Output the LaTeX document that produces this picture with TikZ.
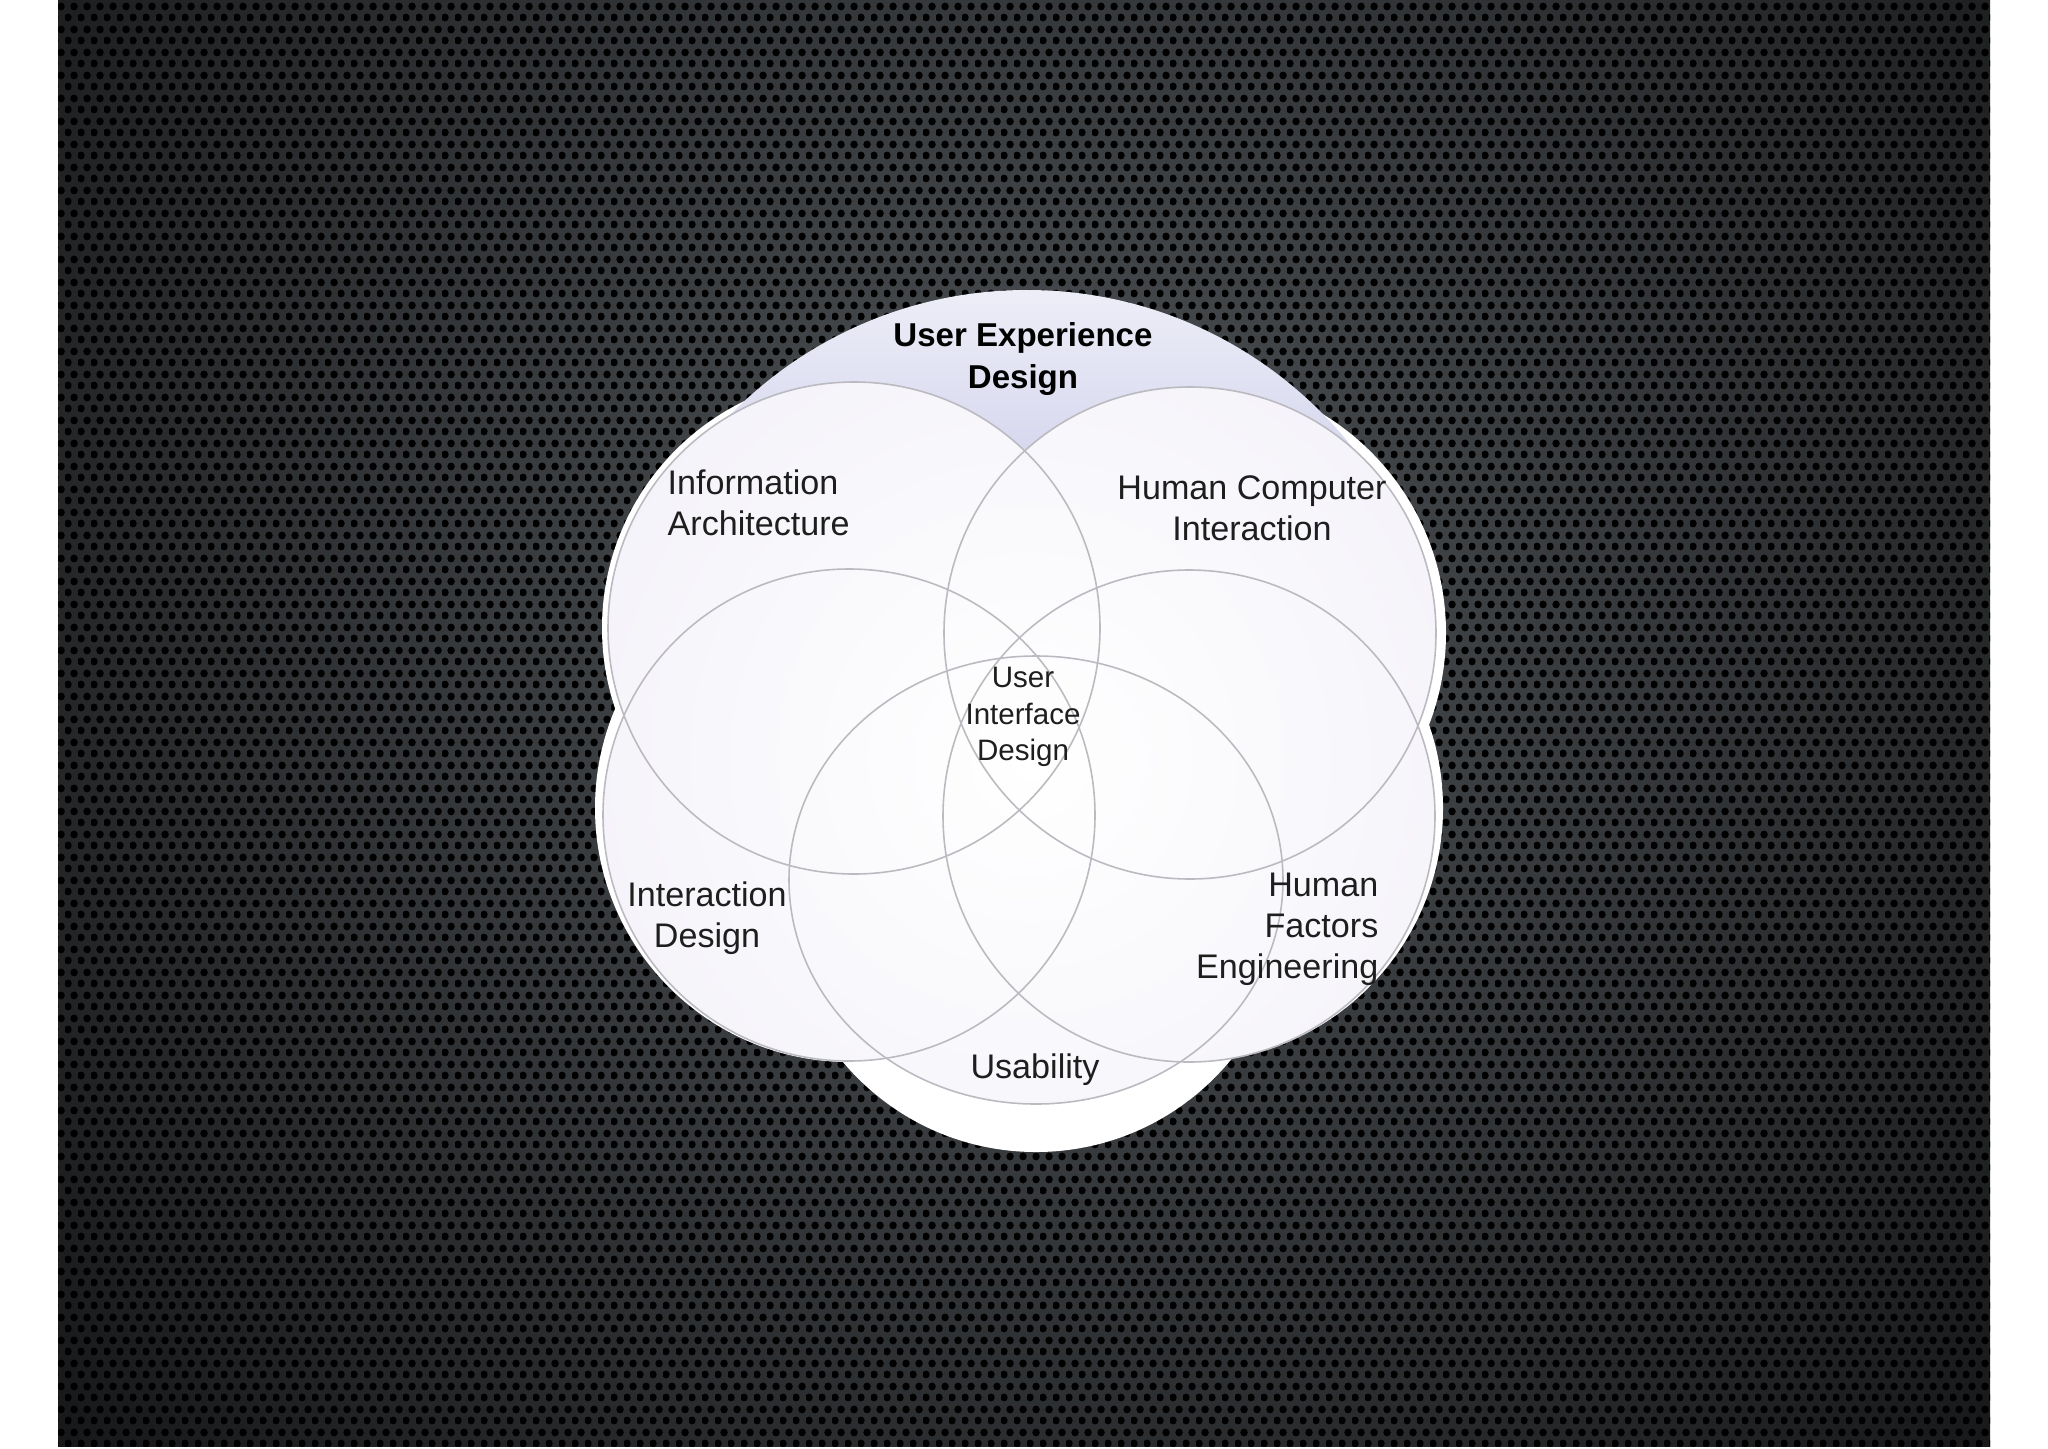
\documentclass[tikz,border=0pt]{standalone}
\usepackage{fontspec}
\setmainfont{Liberation Sans}
\usetikzlibrary{patterns.meta}
\definecolor{slate}{RGB}{80,84,88}
\definecolor{lilac}{RGB}{242,240,248}
\definecolor{uxtop}{RGB}{238,238,248}
\definecolor{uxblue}{RGB}{214,215,238}
\definecolor{rimgray}{RGB}{186,186,192}
\definecolor{ink}{RGB}{30,30,30}
\tikzdeclarepattern{
    name=holes, type=uncolored,
    bounding box={(0,0) and (1.3mm,2.25mm)},
    tile size={(1.3mm,2.25mm)},
    code={
        \fill (0.325mm,0.5625mm) circle[radius=0.4mm];
        \fill (0.975mm,1.6875mm) circle[radius=0.4mm];
    }
}
\tikzset{
    halo/.style      = {fill=white},
    rim/.style       = {draw=rimgray, line width=0.45pt},
    areatext/.style  = {inner sep=0pt, text=ink, font=\fontsize{9.7}{11.7}\selectfont},
    titletext/.style = {inner sep=0pt, text=black, font=\fontsize{9.4}{11.7}\selectfont\bfseries},
    coretext/.style  = {inner sep=0pt, text=ink, font=\fontsize{8.4}{10.3}\selectfont}
}
\begin{document}
\begin{tikzpicture}[x=0.01cm, y=-0.01cm]
    \useasboundingbox (0,0) rectangle (2048,1448);
    % slide
    \fill[white] (0,0) rectangle (2048,1448);
    \begin{scope}
        \clip (58,0) rectangle (1990,1446);
        \shade[inner color=slate, outer color=black] (1040,600) circle[radius=1800];
        \fill[pattern=holes, pattern color=black] (58,0) rectangle (1990,1446);
    \end{scope}
    % white halos
    \fill[halo] (854,628) circle[radius=252] (1190,633) circle[radius=256]
                (849,808) circle[radius=254] (1189,808) circle[radius=254]
                (1036,900) circle[radius=252];
    % user experience design
    \begin{scope}
        \clip (1027,705) circle[radius=415];
        \shade[top color=uxtop, bottom color=uxblue] (600,285) rectangle (1460,460);
        \fill[uxblue] (600,459) rectangle (1460,620);
    \end{scope}
    % the five disciplines
    \begin{scope}
        \clip (854,628) circle[radius=246] (1190,633) circle[radius=246]
              (849,815) circle[radius=246] (1189,816) circle[radius=246]
              (1036,880) ellipse[x radius=247, y radius=224];
        \shade[inner color=white, outer color=lilac] (1030,760) circle[radius=600];
    \end{scope}
    \draw[rim] (854,628) circle[radius=246];
    \draw[rim] (1190,633) circle[radius=246];
    \draw[rim] (849,815) circle[radius=246];
    \draw[rim] (1189,816) circle[radius=246];
    \draw[rim] (1036,880) ellipse[x radius=247, y radius=224];
    \node[titletext, align=center] (ux) at (1023,359) {User Experience\\Design};
    \node[areatext, align=left, anchor=west] (ia) at (667,503) {Information\\Architecture};
    \node[areatext, align=center] (hci) at (1252,508) {Human Computer\\Interaction};
    \node[coretext, align=center] (uid) at (1023,717) {User\\Interface\\Design};
    \node[areatext, align=center] (ixd) at (707,918) {Interaction\\Design};
    \node[areatext, align=right, anchor=east] (hfe) at (1379,929) {Human\\Factors\\Engineering};
    \node[areatext] (usab) at (1035,1070) {Usability};
\end{tikzpicture}
\end{document}
